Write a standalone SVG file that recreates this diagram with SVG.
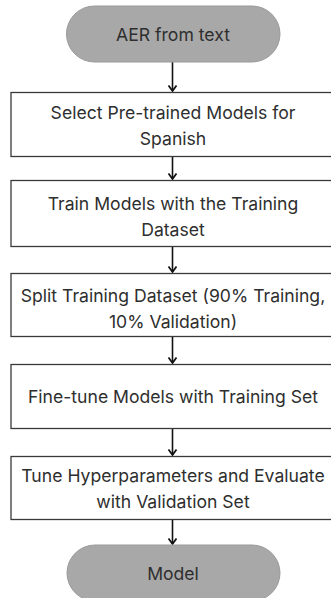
<svg xmlns="http://www.w3.org/2000/svg" width="331" height="598" viewBox="0 0 331 598">
<defs>
<style>
.pill{fill:#a8a8a8;stroke:#9a9a9a;stroke-width:1}
.box{fill:#fff;stroke:#3a3a3a;stroke-width:1.3}
.t{font-family:Inter,"Noto Sans","Liberation Sans",sans-serif;font-size:17.6px;fill:#2e2e2e;text-anchor:middle}
.c{stroke:#111;stroke-width:1.6;fill:none}
</style>
<marker id="ah" markerWidth="10" markerHeight="10" refX="8.5" refY="5" orient="auto" markerUnits="userSpaceOnUse" viewBox="0 0 10 10">
<path d="M3,1 L8.5,5 L3,9" fill="none" stroke="#111" stroke-width="1.8"/>
</marker>
</defs>
<rect width="331" height="598" fill="#fff"/>
<g id="connectors">
<line class="c" x1="172.5" y1="62" x2="172.5" y2="91" marker-end="url(#ah)"/>
<line class="c" x1="172.5" y1="157" x2="172.5" y2="179" marker-end="url(#ah)"/>
<line class="c" x1="172.5" y1="247" x2="172.5" y2="272" marker-end="url(#ah)"/>
<line class="c" x1="172.5" y1="337" x2="172.5" y2="363" marker-end="url(#ah)"/>
<line class="c" x1="172.5" y1="429" x2="172.5" y2="455" marker-end="url(#ah)"/>
<line class="c" x1="172.5" y1="520" x2="172.5" y2="544" marker-end="url(#ah)"/>
</g>
<g id="start">
<rect class="pill" x="66.5" y="6" width="213.5" height="56" rx="28"/>
<text class="t" x="173" y="41">AER from text</text>
</g>
<g id="select">
<rect class="box" x="11" y="92.5" width="330" height="64"/>
<text class="t" x="173" y="119">Select Pre-trained Models for</text>
<text class="t" x="173" y="145">Spanish</text>
</g>
<g id="train">
<rect class="box" x="11" y="180.5" width="330" height="66"/>
<text class="t" x="173" y="210">Train Models with the Training</text>
<text class="t" x="173" y="236">Dataset</text>
</g>
<g id="split">
<rect class="box" x="11" y="273.5" width="330" height="63"/>
<text class="t" x="173" y="302">Split Training Dataset (90% Training,</text>
<text class="t" x="173" y="328">10% Validation)</text>
</g>
<g id="finetune">
<rect class="box" x="11" y="364.5" width="330" height="64"/>
<text class="t" x="173" y="403">Fine-tune Models with Training Set</text>
</g>
<g id="tune">
<rect class="box" x="11" y="456.5" width="330" height="63"/>
<text class="t" x="173" y="482">Tune Hyperparameters and Evaluate</text>
<text class="t" x="173" y="508">with Validation Set</text>
</g>
<g id="model">
<rect class="pill" x="67" y="545" width="213" height="56" rx="28"/>
<text class="t" x="173" y="580">Model</text>
</g>
</svg>
